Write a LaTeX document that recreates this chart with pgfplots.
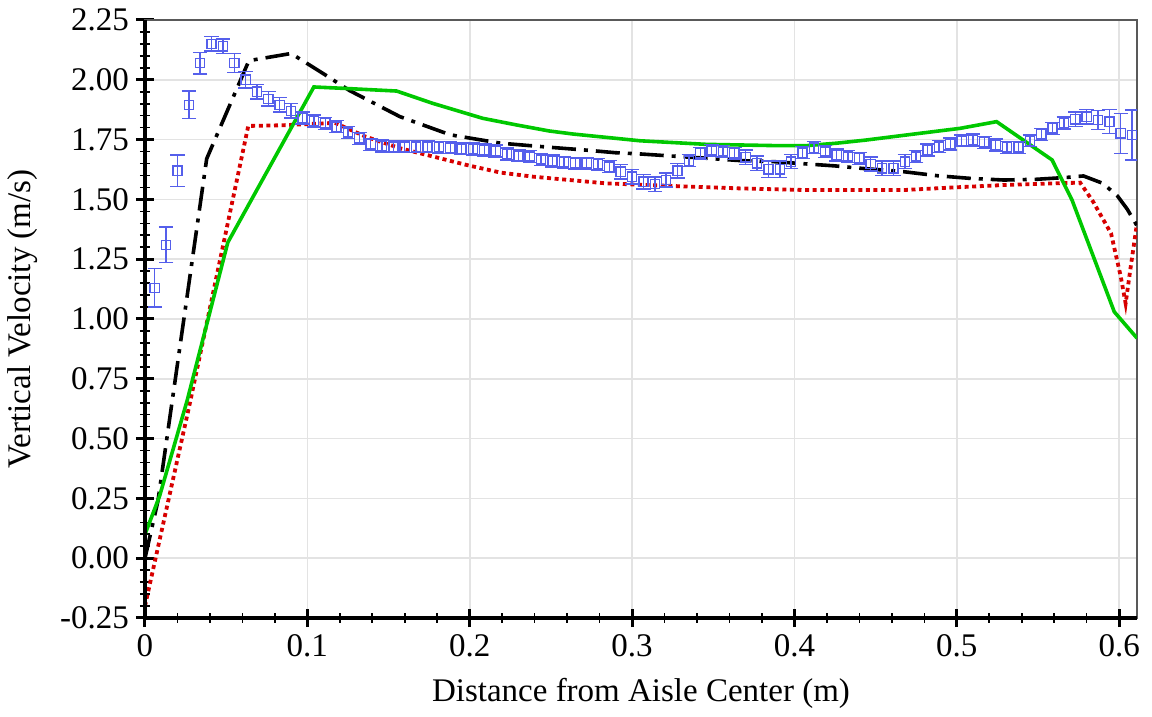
\documentclass[border=0pt]{standalone}
\usepackage{fontspec}
\setmainfont{Liberation Serif}
\usepackage{pgfplots}
\usepackage{pgfplotstable}
\pgfplotsset{compat=1.18}

\definecolor{expblue}{RGB}{85,95,235}
\definecolor{cfdred}{RGB}{215,0,0}
\definecolor{cfdgreen}{RGB}{0,200,0}

% measured vertical velocity (x, y, error)
\pgfplotstableread{
x y e
0.006 1.13 0.08
0.013 1.31 0.075
0.020 1.62 0.065
0.027 1.895 0.058
0.034 2.07 0.045
0.041 2.15 0.03
0.048 2.14 0.03
0.055 2.07 0.04
0.062 2.00 0.035
0.069 1.95 0.03
0.076 1.92 0.03
0.083 1.895 0.03
0.090 1.87 0.03
0.097 1.84 0.025
0.104 1.828 0.025
0.111 1.818 0.025
0.118 1.804 0.025
0.125 1.78 0.025
0.132 1.755 0.025
0.139 1.73 0.025
0.146 1.723 0.025
0.153 1.72 0.025
0.160 1.72 0.025
0.167 1.72 0.025
0.174 1.72 0.025
0.181 1.718 0.025
0.188 1.716 0.025
0.195 1.712 0.025
0.202 1.71 0.025
0.209 1.706 0.025
0.216 1.702 0.025
0.223 1.69 0.025
0.230 1.683 0.025
0.237 1.679 0.025
0.244 1.667 0.025
0.251 1.66 0.025
0.258 1.655 0.025
0.265 1.651 0.025
0.272 1.651 0.025
0.279 1.647 0.025
0.286 1.637 0.025
0.293 1.616 0.03
0.300 1.595 0.03
0.307 1.574 0.03
0.314 1.564 0.03
0.321 1.581 0.03
0.328 1.62 0.03
0.335 1.662 0.025
0.342 1.693 0.025
0.349 1.704 0.025
0.356 1.70 0.025
0.363 1.693 0.025
0.370 1.676 0.03
0.377 1.651 0.03
0.384 1.626 0.035
0.391 1.626 0.035
0.398 1.658 0.03
0.405 1.695 0.025
0.412 1.716 0.025
0.419 1.70 0.025
0.426 1.686 0.025
0.433 1.679 0.025
0.440 1.672 0.025
0.447 1.648 0.03
0.454 1.63 0.03
0.461 1.63 0.03
0.468 1.658 0.03
0.475 1.679 0.025
0.482 1.706 0.025
0.489 1.72 0.025
0.496 1.731 0.025
0.503 1.745 0.025
0.510 1.748 0.025
0.517 1.739 0.025
0.524 1.727 0.025
0.531 1.718 0.025
0.538 1.718 0.025
0.545 1.745 0.025
0.552 1.772 0.025
0.559 1.797 0.025
0.566 1.82 0.025
0.573 1.835 0.03
0.580 1.846 0.03
0.587 1.832 0.04
0.594 1.825 0.05
0.601 1.776 0.083
0.608 1.769 0.105
}\measured

\begin{document}
\begin{tikzpicture}
\begin{axis}[
    scale only axis,
    width=496pt, height=299pt,
    xmin=0, xmax=0.611,
    ymin=-0.25, ymax=2.25,
    xtick={0,0.1,...,0.6},
    ytick={-0.25,0,...,2.25},
    minor x tick num=4,
    minor y tick num=4,
    xtick pos=left, ytick pos=left,
    tick align=center,
    major tick length=9pt,
    minor tick length=5pt,
    major tick style={black, line width=1.5pt},
    minor tick style={black, line width=0.8pt},
    grid=major,
    major grid style={gray!22, line width=0.8pt},
    axis line style={draw=black!65, line width=0.8pt},
    font=\fontsize{16.5}{19}\selectfont,
    /pgf/number format/assume math mode=true,
    yticklabel style={/pgf/number format/.cd, fixed, fixed zerofill, precision=2},
    xticklabel style={/pgf/number format/.cd, fixed, precision=1},
    xlabel={Distance from Aisle Center (m)},
    ylabel={Vertical Velocity (m/s)},
    xlabel style={yshift=-4pt},
    ylabel style={yshift=4.5pt},
    clip=true,
    after end axis/.code={
        \draw[black, line width=1.6pt] (rel axis cs:0,1) -- (rel axis cs:0,0) -- (rel axis cs:1,0);
        \coordinate (sw) at (rel axis cs:0,0);
        \coordinate (ne) at (rel axis cs:1,1);
    },
]
% CFD model (red dotted)
\addplot[cfdred, line width=1.9pt, dash pattern=on 2pt off 1.8pt] coordinates {
(0,-0.20) (0.0277,0.65) (0.0636,1.807) (0.085,1.81) (0.117,1.82) (0.136,1.762)
(0.157,1.714) (0.177,1.68) (0.198,1.644) (0.219,1.612) (0.239,1.595) (0.284,1.567)
(0.325,1.556) (0.366,1.546) (0.408,1.539) (0.467,1.539) (0.498,1.55) (0.529,1.56)
(0.560,1.567) (0.576,1.57) (0.584,1.49) (0.595,1.358) (0.601,1.177) (0.604,1.065)
(0.607,1.212) (0.611,1.40)
};
% CFD model (black dash-dot)
\addplot[black, line width=1.8pt, dash pattern=on 12pt off 4pt on 2pt off 4pt] coordinates {
(0,0.00) (0.008,0.24) (0.038,1.67) (0.064,2.08) (0.090,2.11) (0.110,2.025)
(0.126,1.955) (0.157,1.846) (0.188,1.77) (0.219,1.735) (0.249,1.718) (0.27,1.707)
(0.29,1.695) (0.305,1.69) (0.325,1.681) (0.346,1.672) (0.367,1.662) (0.387,1.658)
(0.408,1.648) (0.425,1.64) (0.441,1.63) (0.467,1.616) (0.488,1.599) (0.508,1.588)
(0.529,1.581) (0.549,1.584) (0.568,1.592) (0.578,1.598) (0.590,1.567) (0.599,1.514)
(0.605,1.459) (0.611,1.39)
};
% CFD model (green solid)
\addplot[cfdgreen, line width=1.8pt] coordinates {
(0,0.10) (0.009,0.26) (0.026,0.66) (0.051,1.32) (0.104,1.97) (0.123,1.964)
(0.155,1.953) (0.177,1.902) (0.208,1.839) (0.229,1.811) (0.249,1.786) (0.264,1.773)
(0.305,1.745) (0.346,1.73) (0.387,1.725) (0.408,1.725) (0.426,1.735) (0.444,1.748)
(0.477,1.776) (0.502,1.797) (0.5245,1.825) (0.5587,1.665) (0.571,1.497) (0.597,1.03)
(0.611,0.92)
};
% experiment
\addplot[expblue, line width=0.7pt, mark=square, mark size=2.3pt, only marks,
    error bars/.cd, y dir=both, y explicit,
    error mark=|,
    error bar style={expblue, line width=0.7pt},
    error mark options={expblue, mark size=3.6pt, line width=0.7pt}]
    table[x=x, y=y, y error=e] {\measured};
\end{axis}
\path (sw) ++(-72.5pt,-49.5pt);
\path (ne) ++(7.5pt,10pt);
\end{tikzpicture}
\end{document}
